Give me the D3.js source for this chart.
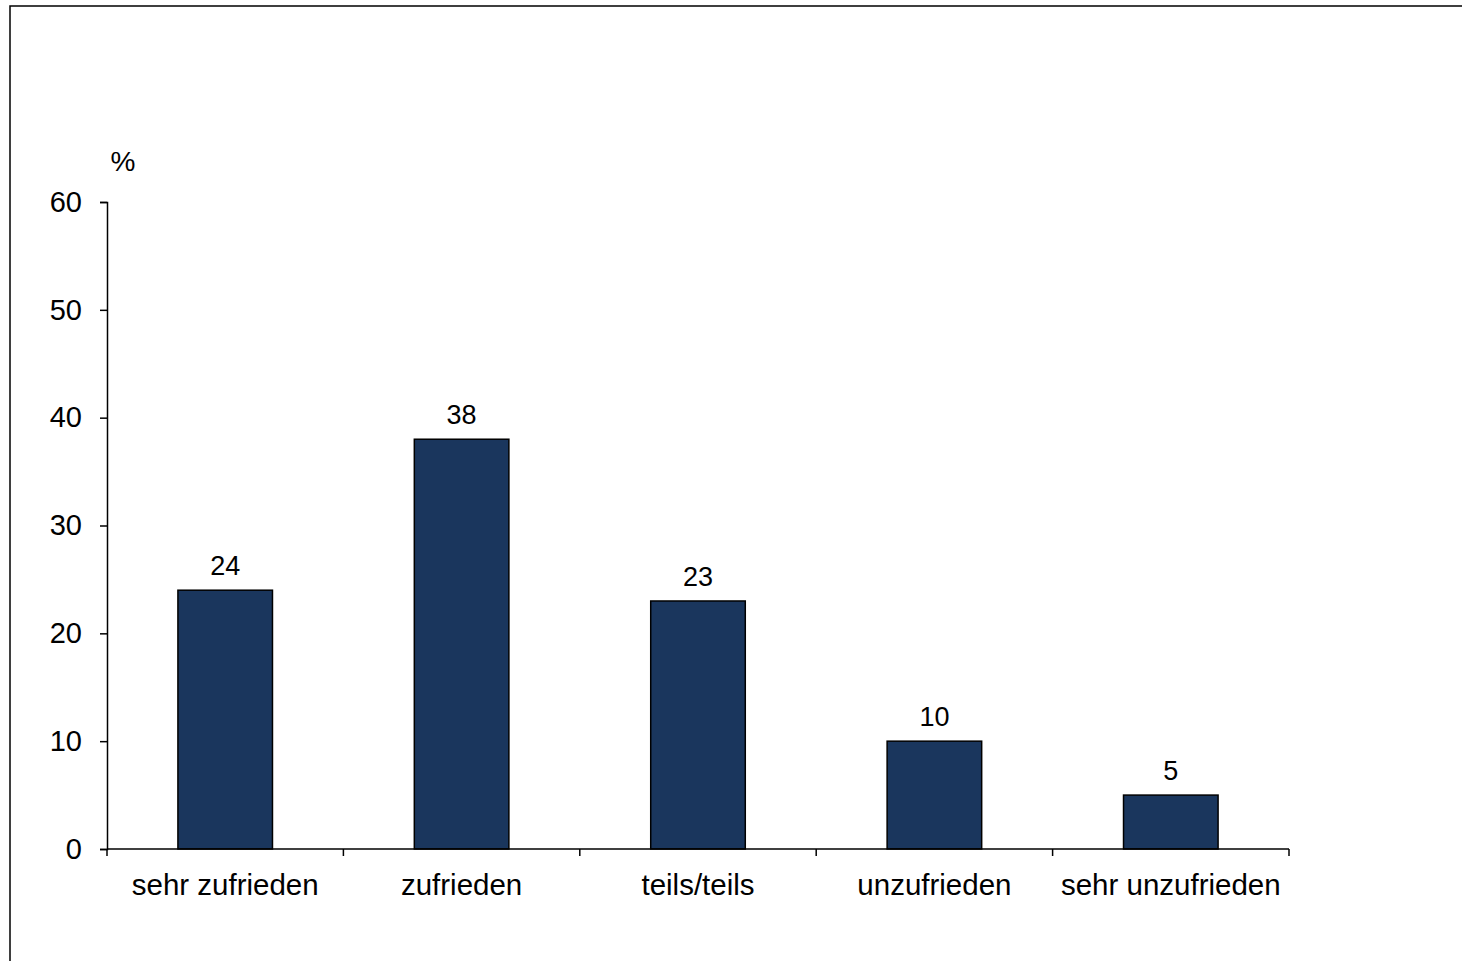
<!DOCTYPE html>
<html>
<head>
<meta charset="utf-8">
<script src="https://cdn.jsdelivr.net/npm/d3@7"></script>
<style>
  body { margin: 0; background: #fff; }
  text { font-family: "Liberation Sans", Arial, sans-serif; fill: #000; }
</style>
</head>
<body>
<svg id="chart"></svg>
<script>
// Daten
const categories = ["sehr zufrieden", "zufrieden", "teils/teils", "unzufrieden", "sehr unzufrieden"];
const values = [24, 38, 23, 10, 5];
const yTicks = [0, 10, 20, 30, 40, 50, 60];

const W = 1462, H = 961;
const margin = { top: 202, right: 173, bottom: 112, left: 107 };
const width = W - margin.left - margin.right;
const height = H - margin.top - margin.bottom;

const root = d3.select("#chart").attr("width", W).attr("height", H);

// Rahmen
root.append("rect")
    .attr("x", 10).attr("y", 6)
    .attr("width", W).attr("height", H)
    .attr("fill", "none")
    .attr("stroke", "#000")
    .attr("stroke-width", 1.5);

const svg = root.append("g")
    .attr("transform", `translate(${margin.left},${margin.top})`);

const x = d3.scaleBand().domain(categories).range([0, width]).paddingInner(0.6).paddingOuter(0.3);
const y = d3.scaleLinear().domain([0, 60]).range([height, 0]);

// Balken
svg.selectAll(".bar")
    .data(values)
    .enter().append("rect")
    .attr("class", "bar")
    .attr("x", (d, i) => x(categories[i]))
    .attr("y", d => y(d))
    .attr("width", x.bandwidth())
    .attr("height", d => y(0) - y(d))
    .attr("fill", "#1a365d")
    .attr("stroke", "#000")
    .attr("stroke-width", 1.5);

// Werte
svg.selectAll(".val")
    .data(values)
    .enter().append("text")
    .attr("class", "val")
    .attr("x", (d, i) => x(categories[i]) + x.bandwidth() / 2)
    .attr("y", d => y(d) - 15)
    .attr("text-anchor", "middle")
    .style("font-size", "27px")
    .text(d => d);

// Y-Achse
const yAxis = svg.append("g")
    .call(d3.axisLeft(y).tickValues(yTicks).tickSize(7).tickSizeOuter(7).tickPadding(18));
yAxis.selectAll("text").style("font-size", "29px");
yAxis.selectAll("path, line").attr("stroke", "#000").attr("stroke-width", 1.5);

// X-Achse mit Trennstrichen zwischen Kategorien
const xAxis = svg.append("g")
    .attr("transform", `translate(0,${height})`);
xAxis.append("line")
    .attr("x1", 0).attr("x2", width)
    .attr("stroke", "#000").attr("stroke-width", 1.5);
const step = width / categories.length;
xAxis.selectAll(".tick")
    .data(d3.range(categories.length + 1))
    .enter().append("line")
    .attr("x1", d => d * step).attr("x2", d => d * step)
    .attr("y1", 0).attr("y2", 7)
    .attr("stroke", "#000").attr("stroke-width", 1.5);
xAxis.selectAll(".cat")
    .data(categories)
    .enter().append("text")
    .attr("class", "cat")
    .attr("x", d => x(d) + x.bandwidth() / 2)
    .attr("y", 46)
    .attr("text-anchor", "middle")
    .style("font-size", "29.5px")
    .text(d => d);

// Einheit
svg.append("text")
    .attr("x", 16)
    .attr("y", -31)
    .attr("text-anchor", "middle")
    .style("font-size", "28px")
    .text("%");
</script>
</body>
</html>
